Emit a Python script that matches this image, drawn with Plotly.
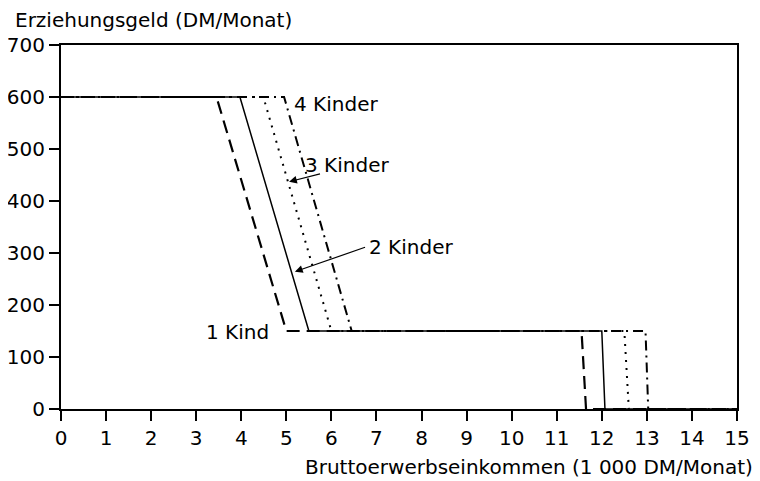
import plotly.graph_objects as go

# Data
income_1 = [0, 3.45, 5.0, 11.55, 11.65, 15]
geld_1 = [600, 600, 150, 150, 0, 0]
income_2 = [0, 3.97, 5.5, 12.0, 12.07, 15]
geld_2 = [600, 600, 150, 150, 0, 0]
income_3 = [0, 4.49, 6.0, 12.5, 12.6, 15]
geld_3 = [600, 600, 150, 150, 0, 0]
income_4 = [0, 4.95, 6.45, 12.97, 13.03, 15]
geld_4 = [600, 600, 150, 150, 0, 0]

x_ticks = list(range(0, 16))
y_ticks = list(range(0, 701, 100))

FONT = "DejaVu Sans"

fig = go.Figure()
fig.add_trace(go.Scatter(x=income_4, y=geld_4, mode="lines", name="4 Kinder",
                         line=dict(color="black", width=2, dash="10px,5px,2px,5px")))
fig.add_trace(go.Scatter(x=income_3, y=geld_3, mode="lines", name="3 Kinder",
                         line=dict(color="black", width=2, dash="2px,6px")))
fig.add_trace(go.Scatter(x=income_1, y=geld_1, mode="lines", name="1 Kind",
                         line=dict(color="black", width=2.2, dash="13px,7px")))
fig.add_trace(go.Scatter(x=income_2, y=geld_2, mode="lines", name="2 Kinder",
                         line=dict(color="black", width=1.5)))

anns = []
# labels
for txt, x, y in [("4 Kinder", 5.12, 586), ("3 Kinder", 5.38, 469),
                  ("2 Kinder", 6.78, 311), ("1 Kind", 3.17, 149)]:
    anns.append(dict(x=x, y=y, xref="x", yref="y", text=txt, showarrow=False,
                     xanchor="left", yanchor="middle",
                     font=dict(family=FONT, size=20, color="black")))
# arrows
for hx, hy, tx, ty in [(5.06, 437, 5.78, 453), (5.19, 264, 6.78, 312)]:
    anns.append(dict(x=hx, y=hy, xref="x", yref="y", ax=tx, ay=ty,
                     axref="x", ayref="y", text="", showarrow=True,
                     arrowhead=2, arrowsize=1.3, arrowwidth=1.2,
                     arrowcolor="black"))
# axis titles
anns.append(dict(x=-0.071, y=1.07, xref="paper", yref="paper",
                 text="Erziehungsgeld (DM/Monat)", showarrow=False,
                 xanchor="left", yanchor="middle",
                 font=dict(family=FONT, size=20, color="black")))
anns.append(dict(x=1.026, y=-0.158, xref="paper", yref="paper",
                 text="Bruttoerwerbseinkommen (1 000 DM/Monat)", showarrow=False,
                 xanchor="right", yanchor="middle",
                 font=dict(family=FONT, size=20, color="black")))

fig.update_layout(
    width=758, height=473,
    margin=dict(l=53, r=29, t=37, b=72, autoexpand=False),
    paper_bgcolor="white", plot_bgcolor="white",
    showlegend=False,
    annotations=anns,
    xaxis=dict(range=[0, 15], tickvals=x_ticks, ticktext=[str(v) for v in x_ticks],
               ticks="outside", ticklen=10, tickwidth=1.5, tickcolor="black",
               showline=True, linewidth=2, linecolor="black", mirror=True,
               showgrid=False, zeroline=False, automargin=False,
               tickfont=dict(family=FONT, size=20, color="black")),
    yaxis=dict(range=[0, 700], tickvals=y_ticks, ticktext=[str(v) for v in y_ticks],
               ticks="outside", ticklen=10, tickwidth=1.5, tickcolor="black",
               showline=True, linewidth=2, linecolor="black", mirror=True,
               showgrid=False, zeroline=False, automargin=False,
               tickfont=dict(family=FONT, size=20, color="black")),
)

fig.write_html("out.html")
